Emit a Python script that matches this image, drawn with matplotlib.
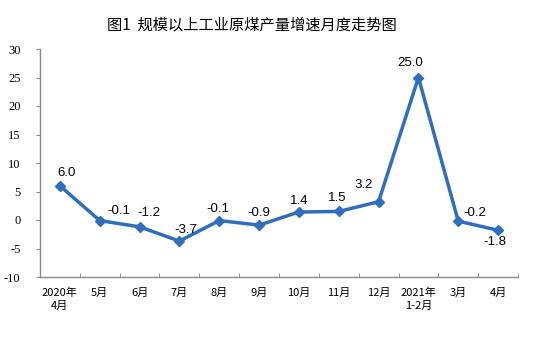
import matplotlib
matplotlib.use('Agg')
import matplotlib.pyplot as plt
import numpy as np

plt.rcParams['font.family'] = ['Noto Sans CJK SC', 'DejaVu Sans']

months = ['2020年\n4月', '5月', '6月', '7月', '8月', '9月', '10月', '11月', '12月',
          '2021年\n1-2月', '3月', '4月']
growth = [6.0, -0.1, -1.2, -3.7, -0.1, -0.9, 1.4, 1.5, 3.2, 25.0, -0.2, -1.8]
yticks = [-10, -5, 0, 5, 10, 15, 20, 25, 30]

# label nudges in pixels (dx, dy) so the numbers clear the line
label_shift = [(7, 13), (19, 10), (9, 14), (6, 11), (-1, 12), (0, 12),
               (0, 11), (-2, 13), (-15, 17), (-8, 14), (17, 8), (-3, -12)]

blue = '#2F6EBD'

fig = plt.figure(figsize=(5.54, 3.47), dpi=100)
ax = fig.add_axes([40 / 554, 1 - 277 / 347, 478 / 554, 228 / 347])

x = np.arange(len(months))
ax.plot(x, growth, color=blue, linewidth=2.5, marker='D', markersize=5,
        markerfacecolor=blue, markeredgecolor=blue)

for i, v in enumerate(growth):
    ax.annotate('%.1f' % v, (i, v), xytext=label_shift[i], textcoords='offset pixels',
                ha='center', va='center',
                fontsize=9.5, family='Liberation Sans', color='black')

ax.set_xlim(-0.5, len(months) - 0.5)
ax.set_ylim(-10, 30)
ax.set_yticks(yticks)
ax.set_yticklabels([str(t) for t in yticks], family='Liberation Serif', fontsize=9)
ax.set_xticks(x)
ax.set_xticklabels(months, fontsize=8, linespacing=1.3)
ax.set_xticks(np.arange(-0.5, len(months), 1), minor=True)
ax.tick_params(axis='x', which='major', length=0, pad=8)
ax.tick_params(axis='x', which='minor', direction='in', length=3, color='#888888')
ax.tick_params(axis='y', direction='out', length=3, color='#888888', pad=11)

for s in ['top', 'right']:
    ax.spines[s].set_visible(False)
for s in ['left', 'bottom']:
    ax.spines[s].set_color('#888888')
    ax.spines[s].set_linewidth(1)

fig.text(0.455, 1 - 25 / 347, '图1  规模以上工业原煤产量增速月度走势图', ha='center', va='center',
         fontsize=11, fontweight='medium')

fig.savefig('out.png', dpi=100)
